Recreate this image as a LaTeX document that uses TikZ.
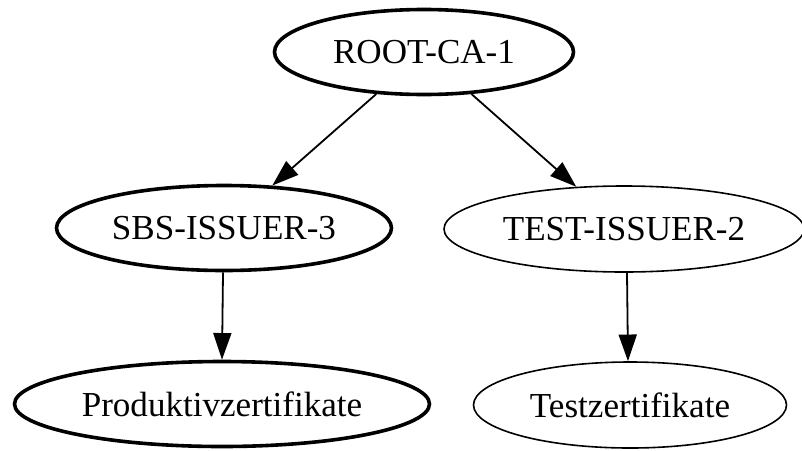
\documentclass[tikz,border=0pt]{standalone}
\usepackage{fontspec}
\setmainfont{Liberation Serif}
\usetikzlibrary{shapes.geometric,arrows.meta}
\begin{document}
\begin{tikzpicture}[x=0.75pt,y=-0.75pt,
  ell/.style={ellipse,draw,inner sep=0pt,font=\fontsize{26.3pt}{30pt}\selectfont,line width=1.2pt},
  bold/.style={line width=2.7pt},
  edge/.style={line width=1.35pt,-{Triangle[length=20pt,width=13.5pt]}}]
\useasboundingbox (0,0) rectangle (802,450);
\node[ell,bold,minimum width=299*0.75pt,minimum height=85*0.75pt] (root) at (424,52) {ROOT-CA-1};
\node[ell,bold,minimum width=335*0.75pt,minimum height=85*0.75pt] (sbs) at (224,228) {SBS-ISSUER-3};
\node[ell,minimum width=360*0.75pt,minimum height=86*0.75pt] (test) at (624,229) {TEST-ISSUER-2};
\node[ell,bold,minimum width=415*0.75pt,minimum height=85*0.75pt] (prod) at (222,404) {Produktivzertifikate};
\node[ell,minimum width=313*0.75pt,minimum height=86*0.75pt] (testz) at (630,405) {Testzertifikate};
\draw[edge] (root) -- (sbs);
\draw[edge] (root) -- (test);
\draw[edge] ([xshift=-0.75pt]sbs.south) -- (prod.north);
\draw[edge] ([xshift=2.25pt]test.south) -- ([xshift=-1.5pt]testz.north);
\end{tikzpicture}
\end{document}
